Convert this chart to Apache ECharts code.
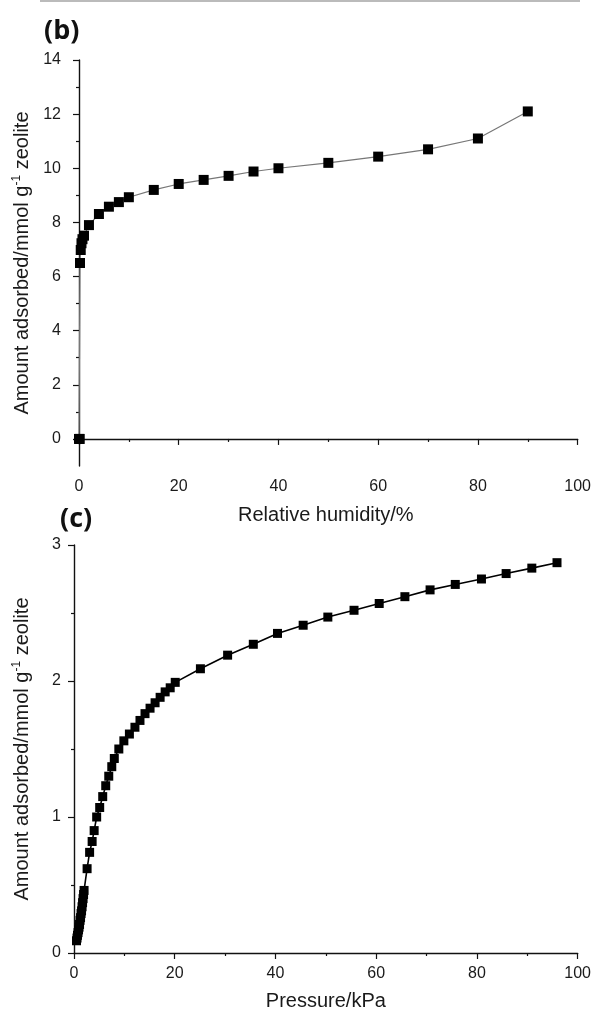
<!DOCTYPE html>
<html><head><meta charset="utf-8">
<script src="https://cdn.jsdelivr.net/npm/echarts@6/dist/echarts.min.js"></script>
<style>html,body{margin:0;padding:0;background:#fff}#c{width:594px;height:1015px}</style>
</head><body><div id="c"></div>
<script>
// Panel (b): water adsorption vs relative humidity
const rhValues = [0, 0.15, 0.2, 0.35, 0.5, 0.7, 1.0, 2, 4, 6, 8, 10, 15, 20, 25, 30, 35, 40, 50, 60, 70, 80, 90];
const rhAmount = [0, 0, 6.5, 6.98, 7.23, 7.38, 7.51, 7.9, 8.31, 8.58, 8.75, 8.93, 9.2, 9.42, 9.57, 9.72, 9.88, 10.0, 10.2, 10.43, 10.7, 11.1, 12.1];
// Panel (c): adsorption vs pressure
const pValues = [0.5,0.6,0.7,0.8,0.9,1.0,1.1,1.2,1.3,1.4,1.5,1.6,1.7,1.8,1.9,2.0,2.6,3.1,3.6,4.0,4.5,5.1,5.7,6.3,6.9,7.5,8.0,8.9,9.9,11.0,12.1,13.1,14.1,15.1,16.1,17.1,18.1,19.1,20.1,25.1,30.5,35.6,40.4,45.5,50.4,55.6,60.6,65.7,70.7,75.7,80.9,85.8,90.9,95.9];
const pAmount = [0.09,0.11,0.13,0.15,0.17,0.19,0.21,0.24,0.26,0.29,0.31,0.34,0.37,0.40,0.43,0.46,0.62,0.74,0.82,0.90,1.0,1.07,1.15,1.23,1.30,1.37,1.43,1.50,1.56,1.61,1.66,1.71,1.76,1.80,1.84,1.88,1.92,1.95,1.99,2.09,2.19,2.27,2.35,2.41,2.47,2.52,2.57,2.62,2.67,2.71,2.75,2.79,2.83,2.87];
// Tick labels
const bXLabels = [0, 20, 40, 60, 80, 100];
const bXMinor = [10, 30, 50, 70, 90];
const bYLabels = [0, 2, 4, 6, 8, 10, 12, 14];
const bYMinor = [1, 3, 5, 7, 9, 11, 13];

const FONT = '"Liberation Sans", Arial, sans-serif';
const AX = '#111';
const yName = 'Amount adsorbed/mmol g{sup|-1} zeolite';
const nameStyle = {fontFamily: FONT, fontSize: 20, color: '#1a1a1a',
  rich: {sup: {fontFamily: FONT, fontSize: 12, color: '#1a1a1a', padding: [0, 0, 11, 0]}}};
const xNameStyle = {fontFamily: FONT, fontSize: 20, color: '#1a1a1a'};
const lblStyle = {fontFamily: FONT, fontSize: 16, color: '#1a1a1a'};

const chart = echarts.init(document.getElementById('c'), null, {renderer: 'canvas'});
chart.setOption({
  animation: false,
  backgroundColor: '#fff',
  graphic: [
    {type: 'line', shape: {x1: 40, y1: 1, x2: 580, y2: 1}, style: {stroke: '#bbb', lineWidth: 2}},
    {type: 'text', left: 44, top: 18, style: {text: '(b)', font: 'bold 27px "Open Sans", sans-serif', fill: '#111'}},
    {type: 'text', left: 60, top: 506, style: {text: '(c)', font: 'bold 27px "Open Sans", sans-serif', fill: '#111'}}
  ],
  grid: [
    {left: 74, top: 60, width: 505, height: 406},
    {left: 74, top: 545, width: 507, height: 408}
  ],
  xAxis: [
    {gridIndex: 0, type: 'value', min: -1, max: 100,
     axisLine: {lineStyle: {color: AX, width: 1.4}},
     axisTick: {inside: false, length: 3, customValues: bXMinor, lineStyle: {color: AX, width: 1.2}},
     axisLabel: {show: false}, splitLine: {show: false}},
    {gridIndex: 0, type: 'value', min: -1, max: 100, position: 'bottom',
     axisLine: {show: false},
     axisTick: {inside: false, length: 6, customValues: bXLabels, lineStyle: {color: AX, width: 1.2}},
     axisLabel: Object.assign({customValues: bXLabels, margin: 13}, lblStyle),
     splitLine: {show: false},
     name: 'Relative humidity/%', nameLocation: 'middle', nameGap: 39, nameTextStyle: xNameStyle},
    {gridIndex: 1, type: 'value', min: 0, max: 100, interval: 20,
     axisLine: {lineStyle: {color: AX, width: 1.4}},
     axisTick: {inside: false, length: 6, lineStyle: {color: AX, width: 1.2}},
     minorTick: {show: true, splitNumber: 2, length: 3, lineStyle: {color: AX, width: 1.2}},
     axisLabel: Object.assign({margin: 13}, lblStyle), splitLine: {show: false},
     name: 'Pressure/kPa', nameLocation: 'middle', nameGap: 38, nameTextStyle: xNameStyle}
  ],
  yAxis: [
    {gridIndex: 0, type: 'value', min: -1, max: 14,
     axisLine: {show: true, lineStyle: {color: AX, width: 1.4}},
     axisTick: {show: true, inside: false, length: 3, customValues: bYMinor, lineStyle: {color: AX, width: 1.2}},
     axisLabel: {show: false}, splitLine: {show: false}},
    {gridIndex: 0, type: 'value', min: -1, max: 14, position: 'left',
     axisLine: {show: false},
     axisTick: {show: true, inside: false, length: 6, customValues: bYLabels, lineStyle: {color: AX, width: 1.2}},
     axisLabel: Object.assign({customValues: bYLabels, margin: 13}, lblStyle), splitLine: {show: false},
     name: yName, nameLocation: 'middle', nameGap: 40, nameTextStyle: nameStyle},
    {gridIndex: 1, type: 'value', min: 0, max: 3, interval: 1,
     axisLine: {show: true, lineStyle: {color: AX, width: 1.4}},
     axisTick: {show: true, inside: false, length: 6, lineStyle: {color: AX, width: 1.2}},
     minorTick: {show: true, splitNumber: 2, length: 3, lineStyle: {color: AX, width: 1.2}},
     axisLabel: Object.assign({margin: 13}, lblStyle), splitLine: {show: false},
     name: yName, nameLocation: 'middle', nameGap: 40, nameTextStyle: nameStyle}
  ],
  series: [
    {type: 'line', xAxisIndex: 0, yAxisIndex: 0,
     data: rhValues.map((x, i) => [x, rhAmount[i]]),
     symbol: 'rect', symbolSize: 10, showAllSymbol: true,
     itemStyle: {color: '#000'}, lineStyle: {color: '#777', width: 1.2}},
    {type: 'line', xAxisIndex: 2, yAxisIndex: 2,
     data: pValues.map((x, i) => [x, pAmount[i]]),
     symbol: 'rect', symbolSize: 9, showAllSymbol: true,
     itemStyle: {color: '#000'}, lineStyle: {color: '#000', width: 1.6}}
  ]
});
</script></body></html>
